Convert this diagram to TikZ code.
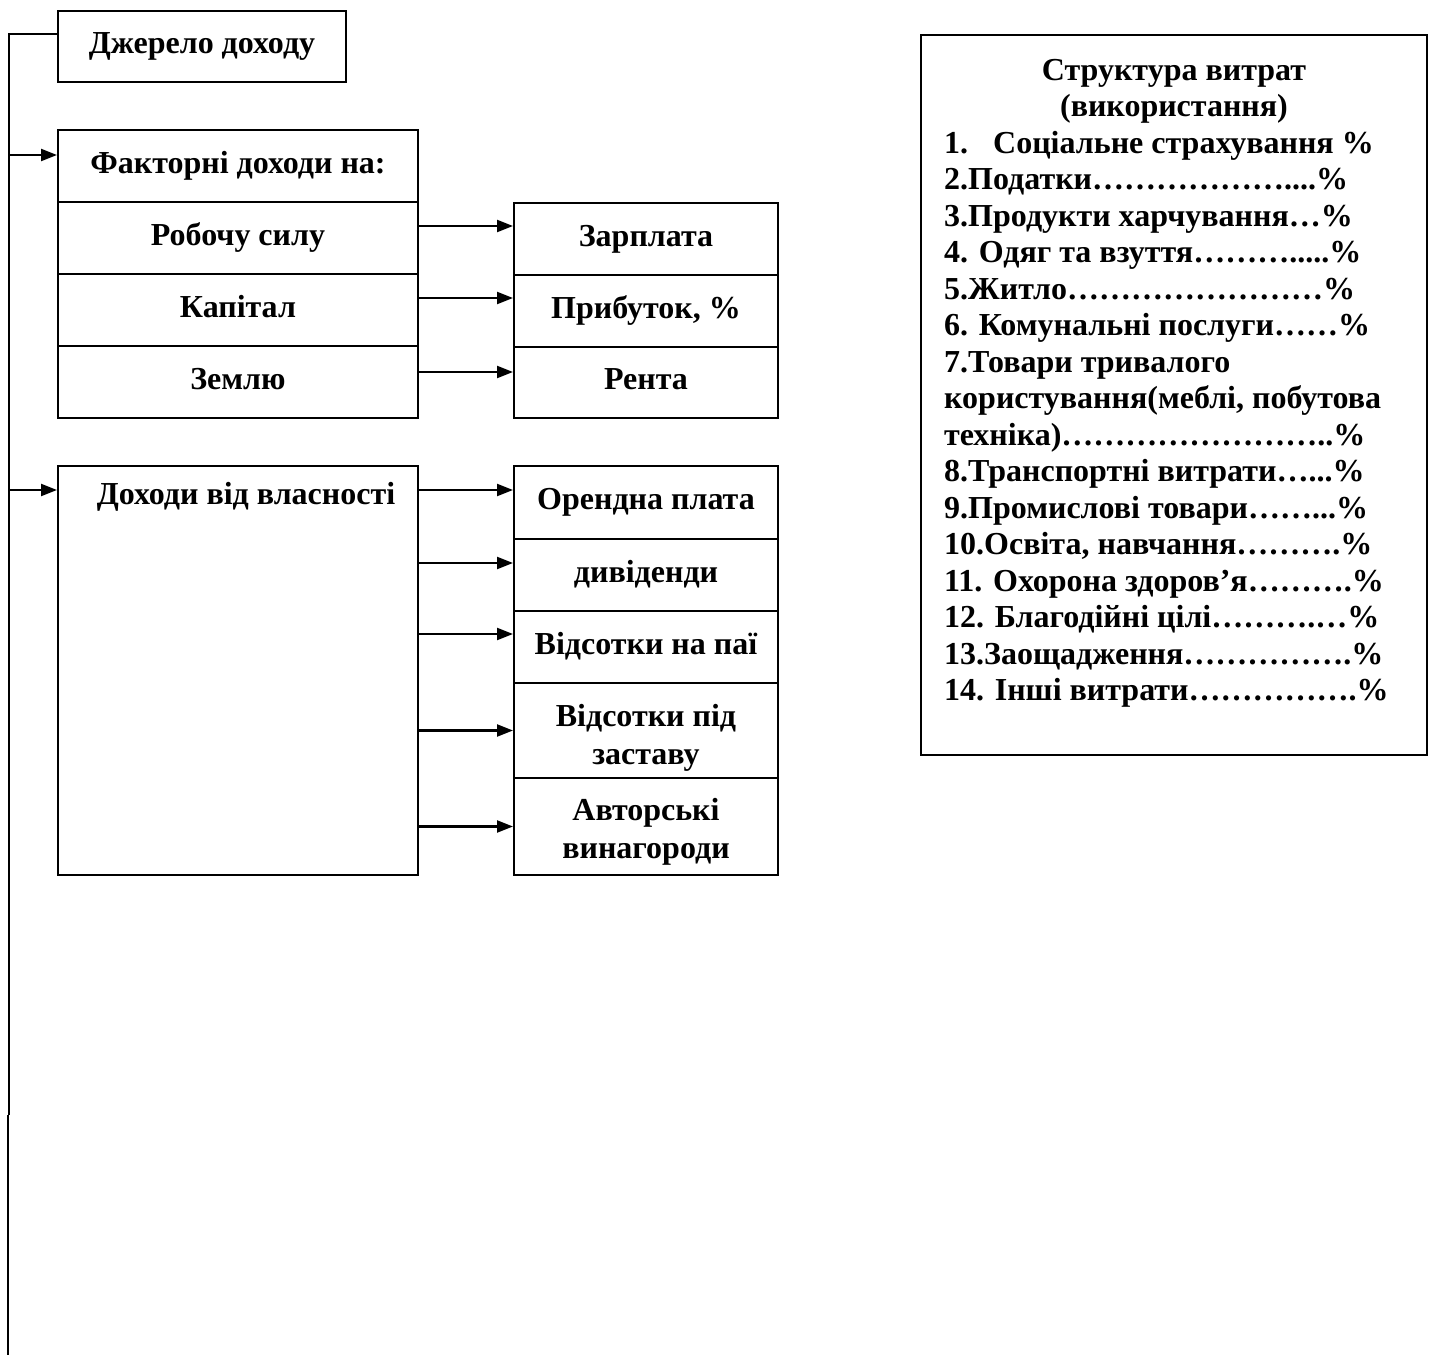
\documentclass[tikz,border=0pt]{standalone}
\usepackage{fontspec}
\setmainfont{Liberation Serif}
\usetikzlibrary{arrows.meta}
\begin{document}
\begin{tikzpicture}[x=1pt,y=-1pt,
  font=\fontsize{32}{36.5}\selectfont\bfseries,
  box/.style={draw, line width=2pt, inner sep=0pt, minimum width=#1},
  one/.style={text height=22pt, text depth=8pt},
  two/.style={align=center, font=\fontsize{32}{38}\selectfont\bfseries},
  ln/.style={line width=2pt},
  arr/.style={line width=2.2pt, -{Triangle[length=16pt,width=12pt]}}]
\useasboundingbox (0,0) rectangle (1430,1355);
% left column
\node[box=288, one, minimum height=71] (src) at (202,46.5) {Джерело доходу};
\node[box=360, one, minimum height=72] (fak) at (238,166) {Факторні доходи на:};
\node[box=360, one, minimum height=72] (rob) at (238,238) {Робочу силу};
\node[box=360, one, minimum height=72] (kap) at (238,310) {Капітал};
\node[box=360, one, minimum height=72] (zem) at (238,382) {Землю};
\node[box=264, one, minimum height=72] (zar) at (646,239) {Зарплата};
\node[box=264, one, minimum height=72] (pry) at (646,311) {Прибуток, \%};
\node[box=264, one, minimum height=71] (ren) at (646,382.5) {Рента};
\node[box=360, minimum height=409] (dv) at (238,670.5) {};
\node[one, inner sep=0pt] (dvt) at (246,497) {Доходи від власності};
\node[box=264, one, minimum height=73] (ore) at (646,502.5) {Орендна плата};
\node[box=264, one, minimum height=72] (dyv) at (646,575) {дивіденди};
\node[box=264, one, minimum height=72] (paj) at (646,647) {Відсотки на паї};
\node[box=264, minimum height=95] (zas) at (646,730.5) {};
\node[two, anchor=base, inner sep=0pt] (zast) at (646,764) {Відсотки під\\заставу};
\node[box=264, minimum height=97] (avt) at (646,826.5) {};
\node[two, anchor=base, inner sep=0pt] (avtt) at (646,858) {Авторські\\винагороди};
% right box
\node[box=506, minimum height=720] (str) at (1174,395) {};
\node[anchor=base, align=center, inner sep=0pt] (strt) at (1174,116.5) {Структура витрат\\(використання)};
\node[anchor=base west, align=left, inner sep=0pt] (list) at (944,700.5) {%
1.\hspace*{25pt}Соціальне страхування \%\\
2.Податки………………....\%\\
3.Продукти харчування…\%\\
4. Одяг та взуття……….....\%\\
5.Житло……………………\%\\
6. Комунальні послуги……\%\\
7.Товари тривалого\\
користування(меблі, побутова\\
техніка)……………………..\%\\
8.Транспортні витрати…...\%\\
9.Промислові товари……...\%\\
10.Освіта, навчання……….\%\\
11. Охорона здоров’я……….\%\\
12. Благодійні цілі……….…\%\\
13.Заощадження…………….\%\\
14. Інші витрати…………….\%};
% trunk
\coordinate (t0) at (9,34);
\coordinate (tj) at (9,1115);
\coordinate (tj2) at (7.7,1115);
\coordinate (tb) at (7.7,1355);
\coordinate (t1) at (9,155);
\coordinate (t2) at (9,490);
\draw[ln] (src.west |- t0) -- (t0) -- (tj);
\draw[ln] (tj2) -- (tb);
\draw[arr] (t1) -- (t1 -| fak.west);
\draw[arr] (t2) -- (t2 -| dv.west);
% arrows
\draw[arr] ([yshift=12]rob.east) -- ([yshift=12]rob.east -| zar.west);
\draw[arr] ([yshift=12]kap.east) -- ([yshift=12]kap.east -| pry.west);
\draw[arr] ([yshift=10]zem.east) -- ([yshift=10]zem.east -| ren.west);
\draw[arr] (dv.east |- 0,490) -- (ore.west |- 0,490);
\draw[arr] (dv.east |- 0,563) -- (dyv.west |- 0,563);
\draw[arr] (dv.east |- 0,634) -- (paj.west |- 0,634);
\draw[arr] (dv.east |- zas.west) -- (zas.west);
\draw[arr] (dv.east |- avt.west) -- (avt.west);
\end{tikzpicture}
\end{document}
